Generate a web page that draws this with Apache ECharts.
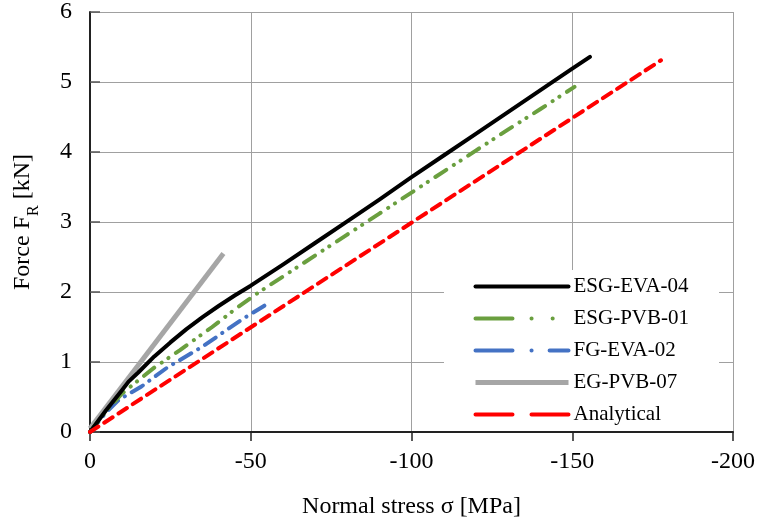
<!DOCTYPE html>
<html>
<head>
<meta charset="utf-8">
<script src="https://cdn.jsdelivr.net/npm/echarts@6/dist/echarts.min.js"></script>
<style>
html,body{margin:0;padding:0;background:#fff;}
#chart{width:760px;height:524px;}
</style>
</head>
<body>
<div id="chart"></div>
<script>
// Data (stress in MPa, force in kN)
const seriesNames = ['ESG-EVA-04', 'ESG-PVB-01', 'FG-EVA-02', 'EG-PVB-07', 'Analytical'];

const esgEva04Stress = [0, -5, -10, -12, -15, -20, -25, -30, -35, -40, -45, -50, -60, -70, -80, -90, -100, -110, -120, -130, -140, -150, -155.5];
const esgEva04Force  = [0, 0.31, 0.60, 0.72, 0.85, 1.08, 1.28, 1.47, 1.64, 1.80, 1.95, 2.09, 2.39, 2.70, 3.01, 3.32, 3.64, 3.95, 4.26, 4.57, 4.88, 5.19, 5.36];

const esgPvb01Stress = [0, -5, -10, -14, -20, -28, -38, -45, -52, -60, -70, -80, -90, -100, -110, -120, -130, -140, -150.7];
const esgPvb01Force  = [0, 0.30, 0.55, 0.70, 0.92, 1.17, 1.50, 1.75, 1.98, 2.22, 2.52, 2.82, 3.12, 3.42, 3.72, 4.02, 4.32, 4.61, 4.93];

const fgEva02Stress = [0, -5, -9, -16, -24, -35, -47, -55.5];
const fgEva02Force  = [0, 0.28, 0.46, 0.65, 0.92, 1.22, 1.60, 1.84];

const egPvb07Stress = [0, -41.5];
const egPvb07Force  = [0.05, 2.55];

const analyticalStress = [0, -177.6];
const analyticalForce  = [0, 5.31];

const xTicks = [0, -50, -100, -150, -200];
const yTicks = [0, 1, 2, 3, 4, 5, 6];

function pairs(xs, ys) { return xs.map((x, i) => [x, ys[i]]); }

const FONT = '"Liberation Serif", "Times New Roman", serif';

const chart = echarts.init(document.getElementById('chart'), null, {renderer: 'canvas'});

const option = {
  backgroundColor: '#ffffff',
  animation: false,
  textStyle: {fontFamily: FONT, color: '#000'},
  grid: {left: 90, right: 27, top: 11, bottom: 92, containLabel: false},
  xAxis: {
    type: 'value',
    min: xTicks[xTicks.length - 1], max: xTicks[0], interval: 50,
    inverse: true,
    name: 'Normal stress σ [MPa]',
    nameLocation: 'middle',
    nameGap: 63,
    nameTextStyle: {fontFamily: FONT, fontSize: 24, color: '#000'},
    axisLine: {onZero: false, lineStyle: {color: '#222', width: 2}},
    axisTick: {show: true, inside: false, length: 9, lineStyle: {color: '#222', width: 1.5}},
    axisLabel: {fontFamily: FONT, fontSize: 24, color: '#000', margin: 18},
    splitLine: {show: true, lineStyle: {color: '#a0a0a0', width: 1}}
  },
  yAxis: {
    type: 'value',
    min: yTicks[0], max: yTicks[yTicks.length - 1], interval: 1,
    name: 'Force F{sub|R} [kN]',
    nameLocation: 'middle',
    nameGap: 55,
    nameRotate: 90,
    nameTextStyle: {
      fontFamily: FONT, fontSize: 24, color: '#000',
      rich: {sub: {fontFamily: FONT, fontSize: 16, color: '#000', verticalAlign: 'bottom', padding: [0, 0, -7, 0]}}
    },
    axisLine: {onZero: false, lineStyle: {color: '#222', width: 2}},
    axisTick: {show: true, inside: true, length: 10, lineStyle: {color: '#555', width: 1.5}},
    axisLabel: {fontFamily: FONT, fontSize: 24, color: '#000', margin: 18},
    splitLine: {show: true, lineStyle: {color: '#a0a0a0', width: 1}}
  },
  legend: {
    orient: 'vertical',
    left: 444,
    top: 270,
    padding: [6, 30, 6, 29],
    backgroundColor: '#ffffff',
    itemWidth: 93,
    itemHeight: 14,
    itemGap: 11,
    itemStyle: {opacity: 0},
    textStyle: {fontFamily: FONT, fontSize: 21, color: '#000'},
    data: [
      {name: 'ESG-EVA-04', itemStyle: {opacity: 0}, lineStyle: {type: 'solid', width: 4, cap: 'round'}},
      {name: 'ESG-PVB-01', itemStyle: {opacity: 0}, lineStyle: {type: [37, 19, 0.1, 21, 0.1, 100], width: 4, cap: 'round'}},
      {name: 'FG-EVA-02', itemStyle: {opacity: 0}, lineStyle: {type: [37, 19, 0.1, 18, 40], width: 4, cap: 'round'}},
      {name: 'EG-PVB-07', itemStyle: {opacity: 0}, lineStyle: {type: 'solid', width: 5, cap: 'butt'}},
      {name: 'Analytical', itemStyle: {opacity: 0}, lineStyle: {type: [37, 19, 40], width: 4, cap: 'round'}}
    ]
  },
  series: [
    {
      name: seriesNames[0], type: 'line', symbol: 'none', z: 5,
      data: pairs(esgEva04Stress, esgEva04Force),
      lineStyle: {color: '#000000', width: 4, cap: 'round', join: 'round'},
      itemStyle: {color: '#000000'}
    },
    {
      name: seriesNames[1], type: 'line', symbol: 'none', z: 4,
      data: pairs(esgPvb01Stress, esgPvb01Force),
      lineStyle: {color: '#6a9f3f', width: 4, type: [13, 9, 0.1, 8, 0.1, 9], cap: 'round', join: 'round'},
      itemStyle: {color: '#6a9f3f'}
    },
    {
      name: seriesNames[2], type: 'line', symbol: 'none', z: 3,
      data: pairs(fgEva02Stress, fgEva02Force),
      lineStyle: {color: '#4472c4', width: 4, type: [13, 8, 0.1, 8], cap: 'round', join: 'round'},
      itemStyle: {color: '#4472c4'}
    },
    {
      name: seriesNames[3], type: 'line', symbol: 'none', z: 2,
      data: pairs(egPvb07Stress, egPvb07Force),
      lineStyle: {color: '#a6a6a6', width: 5, cap: 'butt'},
      itemStyle: {color: '#a6a6a6'}
    },
    {
      name: seriesNames[4], type: 'line', symbol: 'none', z: 6,
      data: pairs(analyticalStress, analyticalForce),
      lineStyle: {color: '#ff0000', width: 4, type: [10, 7], cap: 'round'},
      itemStyle: {color: '#ff0000'}
    }
  ]
};

chart.setOption(option);
</script>
</body>
</html>
